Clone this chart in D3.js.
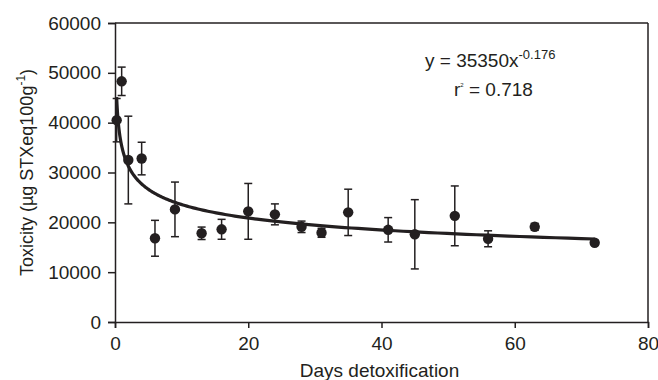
<!DOCTYPE html>
<html>
<head>
<meta charset="utf-8">
<script src="https://cdn.jsdelivr.net/npm/d3@7"></script>
<style>
  body { margin: 0; background: #fff; }
  svg { display: block; font-family: "Liberation Sans", Arial, sans-serif; }
</style>
</head>
<body>
<div id="chart"></div>
<script>
// data
const days = [0.25, 1, 2, 4, 6, 9, 13, 16, 20, 24, 28, 31, 35, 41, 45, 51, 56, 63, 72]
const toxicity = [40500, 48300, 32500, 32800, 16800, 22600, 17800, 18600, 22200, 21600,
  19100, 17900, 22000, 18500, 17600, 21300, 16700, 19100, 15900]
const errors = [4350, 2850, 8800, 3270, 3600, 5480, 1250, 2000, 5600, 2100,
  1150, 900, 4650, 2450, 6950, 6000, 1600, 700, 500]
const xTicks = [0, 20, 40, 60, 80]
const yTicks = [0, 10000, 20000, 30000, 40000, 50000, 60000]

// power fit printed on the chart: y = a * x^b
const fitA = 35350
const fitB = -0.176
const fitStart = 0.25
const fitEnd = 72

const margin = { top: 23, left: 115, right: 10, bottom: 58 }
const width = 658 - margin.left - margin.right
const height = 380 - margin.top - margin.bottom
const ink = '#231f20'

const svg = d3
  .select('#chart')
  .append('svg')
  .attr('width', 658)
  .attr('height', 380)

const g = svg
  .append('g')
  .attr('transform', `translate(${margin.left},${margin.top})`)

const xPositionScale = d3.scaleLinear().domain([0, 80]).range([0, width])
const yPositionScale = d3.scaleLinear().domain([0, 60000]).range([height, 0])

// frame: top and right lines
g.append('line')
  .attr('x1', 0).attr('x2', width).attr('y1', 0).attr('y2', 0)
  .attr('stroke', ink).attr('stroke-width', 1.5)
g.append('line')
  .attr('x1', width).attr('x2', width).attr('y1', 0).attr('y2', height)
  .attr('stroke', ink).attr('stroke-width', 1.5)

// axes
const xAxis = d3.axisBottom(xPositionScale).tickValues(xTicks).tickSize(6).tickPadding(9)
  .tickFormat(d3.format('d'))
const yAxis = d3.axisLeft(yPositionScale).tickValues(yTicks).tickSize(7).tickPadding(7)
  .tickFormat(d3.format('d'))

const xg = g.append('g').attr('transform', `translate(0,${height})`).call(xAxis)
const yg = g.append('g').call(yAxis)

;[xg, yg].forEach(a => {
  a.select('.domain').attr('stroke', ink).attr('stroke-width', 1.5)
  a.selectAll('.tick line').attr('stroke', ink).attr('stroke-width', 1.5)
  a.selectAll('.tick text')
    .attr('fill', ink)
    .style('font-size', '19px')
    .style('font-family', '"Liberation Sans", Arial, sans-serif')
})

// axis titles
svg.append('text')
  .attr('x', margin.left + xPositionScale(40) - 2)
  .attr('y', 377)
  .attr('text-anchor', 'middle')
  .attr('fill', ink)
  .style('font-size', '19px')
  .text('Days detoxification')

const yTitle = svg.append('text')
  .attr('transform', `translate(33,${margin.top + height / 2}) rotate(-90)`)
  .attr('text-anchor', 'middle')
  .attr('fill', ink)
  .style('font-size', '18px')
yTitle.append('tspan').text('Toxicity (µg STXeq100g')
yTitle.append('tspan').attr('dy', -8).style('font-size', '12px').text('-1')
yTitle.append('tspan').attr('dy', 8).text(')')

// fitted curve
const fitX = d3.range(0, 201).map(i => fitStart * Math.pow(fitEnd / fitStart, i / 200))
const line = d3
  .line()
  .x(d => xPositionScale(d))
  .y(d => yPositionScale(fitA * Math.pow(d, fitB)))

g.append('path')
  .datum(fitX)
  .attr('d', line)
  .attr('fill', 'none')
  .attr('stroke', ink)
  .attr('stroke-width', 3.2)

// error bars
const points = days.map((d, i) => ({ day: d, value: toxicity[i], err: errors[i] }))
const bars = g.selectAll('.err').data(points).enter().append('g').attr('class', 'err')
bars.append('line')
  .attr('x1', d => xPositionScale(d.day)).attr('x2', d => xPositionScale(d.day))
  .attr('y1', d => yPositionScale(d.value + d.err))
  .attr('y2', d => yPositionScale(d.value - d.err))
  .attr('stroke', ink).attr('stroke-width', 1.5)
;[1, -1].forEach(s => {
  bars.append('line')
    .attr('x1', d => xPositionScale(d.day) - 4).attr('x2', d => xPositionScale(d.day) + 4)
    .attr('y1', d => yPositionScale(d.value + s * d.err))
    .attr('y2', d => yPositionScale(d.value + s * d.err))
    .attr('stroke', ink).attr('stroke-width', 1.5)
})

// markers
g.selectAll('circle')
  .data(points)
  .enter()
  .append('circle')
  .attr('cx', d => xPositionScale(d.day))
  .attr('cy', d => yPositionScale(d.value))
  .attr('r', 5.2)
  .attr('fill', ink)

// equation
const eq = svg.append('text')
  .attr('x', 425)
  .attr('y', 67)
  .attr('fill', ink)
  .style('font-size', '19px')
eq.append('tspan').text('y = 35350x')
eq.append('tspan').attr('dy', -8).style('font-size', '13px').text('-0.176')

const r2 = svg.append('text')
  .attr('x', 454)
  .attr('y', 96)
  .attr('fill', ink)
  .style('font-size', '19px')
r2.append('tspan').text('r')
r2.append('tspan').attr('dy', -9).style('font-size', '6px').text('2')
r2.append('tspan').attr('dy', 9).text(' = 0.718')
</script>
</body>
</html>
